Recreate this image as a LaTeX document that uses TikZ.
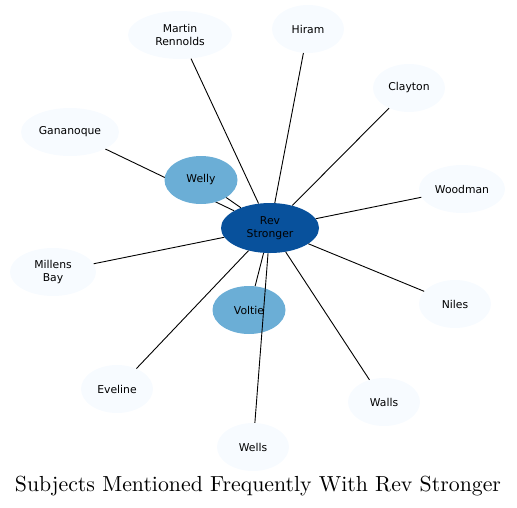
\documentclass[tikz,border=0pt]{standalone}
\usepackage{fontspec}
\newfontfamily\labelfont{DejaVu Sans}
\newfontfamily\titlefont{lmroman10-regular}[Extension=.otf]
\usetikzlibrary{shapes.geometric, backgrounds}

\definecolor{revblue}{HTML}{08519C}
\definecolor{midblue}{HTML}{6BAED6}
\definecolor{paleblue}{HTML}{F7FBFF}

\begin{document}
\begin{tikzpicture}[
        x=1pt, y=-1pt,
        subjnode/.style={ellipse, draw=none, fill=paleblue, inner sep=0pt, minimum width=72pt, minimum height=48pt, align=center, font=\labelfont\fontsize{10.8}{12.8}\selectfont},
        closenode/.style={subjnode, fill=midblue},
        mainnode/.style={subjnode, fill=revblue, minimum width=98pt, minimum height=50pt},
        link/.style={line width=0.9pt, black}
    ]
    \useasboundingbox (0,0) rectangle (517,507);

    % Central subject
    \node[mainnode] (rev) at (270,228) {Rev\\Stronger};

    % Frequent subjects
    \node[closenode, minimum width=73pt] (welly) at (201,180) {Welly};
    \node[closenode, minimum width=73pt] (voltie) at (249,310) {Voltie};

    % Other subjects
    \node[subjnode, minimum width=104pt] (martin) at (180,35) {Martin\\Rennolds};
    \node[subjnode] (hiram) at (308,29) {Hiram};
    \node[subjnode] (clayton) at (409,88) {Clayton};
    \node[subjnode, minimum width=98pt] (gananoque) at (70,132) {Gananoque};
    \node[subjnode, minimum width=86pt] (woodman) at (462,189) {Woodman};
    \node[subjnode, minimum width=86pt] (millens) at (53,272) {Millens\\Bay};
    \node[subjnode] (niles) at (455,304) {Niles};
    \node[subjnode] (eveline) at (117,389) {Eveline};
    \node[subjnode] (walls) at (384,402) {Walls};
    \node[subjnode] (wells) at (253,447) {Wells};

    % Links
    \begin{scope}[on background layer]
        \draw[link] (gananoque) -- (rev);
    \end{scope}
    \draw[link] (welly) -- (rev);
    \draw[link] (voltie) -- (rev);
    \draw[link] (martin) -- (rev);
    \draw[link] (hiram) -- (rev);
    \draw[link] (clayton) -- (rev);
    \draw[link] (woodman) -- (rev);
    \draw[link] (millens) -- (rev);
    \draw[link] (niles) -- (rev);
    \draw[link] (eveline) -- (rev);
    \draw[link] (walls) -- (rev);
    \draw[link] (wells) -- (rev);

    % Title
    \node[font=\titlefont\fontsize{21.8}{26}\selectfont] (title) at (258,486) {Subjects Mentioned Frequently With Rev Stronger};
\end{tikzpicture}
\end{document}
